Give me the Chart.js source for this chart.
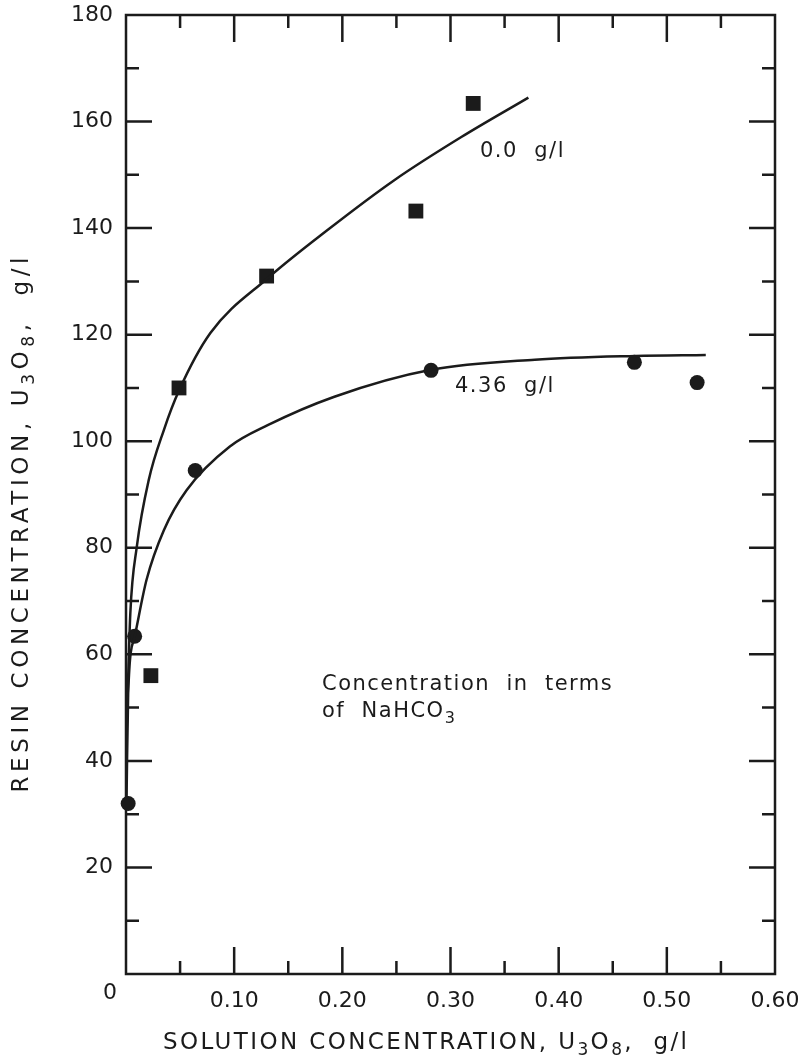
<!DOCTYPE html>
<html>
<head>
<meta charset="utf-8">
<script src="https://cdn.jsdelivr.net/npm/chart.js@4.4.1/dist/chart.umd.min.js"></script>
<style>
  html, body { margin: 0; padding: 0; background: #fff; }
  #wrap { width: 804px; height: 1061px; }
</style>
</head>
<body>
<div id="wrap"><canvas id="chart"></canvas></div>
<script>
// Fitted curves (solution conc. g/l -> resin conc. g/l)
const curve00X = [0.0005, 0.004, 0.010, 0.021, 0.035, 0.049, 0.078, 0.131, 0.186, 0.248, 0.310, 0.372];
const curve00Y = [45, 67.7, 80.2, 92.7, 102.1, 109.5, 120.3, 130.6, 139.6, 149.0, 157.1, 164.5];

const curve436X = [0.0005, 0.002, 0.008, 0.019, 0.035, 0.056, 0.096, 0.131, 0.192, 0.282, 0.378, 0.471, 0.536];
const curve436Y = [33, 52.7, 63.3, 74, 83.3, 90.8, 99, 103, 108.3, 113.4, 115.3, 116, 116.2];

// Measured points
const squaresX = [0.023, 0.049, 0.130, 0.268, 0.321];
const squaresY = [56, 110, 131, 143.2, 163.4];
const circlesX = [0.002, 0.008, 0.064, 0.282, 0.470, 0.528];
const circlesY = [32, 63.4, 94.5, 113.3, 114.8, 111];

// Tick marks (inward, all four sides)
const xMajorTicks = [0.1, 0.2, 0.3, 0.4, 0.5];
const xMinorTicks = [0.05, 0.15, 0.25, 0.35, 0.45, 0.55];
const yMajorTicks = [20, 40, 60, 80, 100, 120, 140, 160];
const yMinorTicks = [10, 30, 50, 70, 90, 110, 130, 150, 170];

const ink = '#1b1b1b';
const fontFamily = '"DejaVu Sans", sans-serif';

const toPoints = (xs, ys) => xs.map((x, i) => ({ x: x, y: ys[i] }));

// text with letter spacing and real subscripts
function measureRich(ctx, segs, size, spacing) {
    return segs.map(s => {
        const fs = s.sub ? Math.round(size * 0.75) : size;
        ctx.font = fs + 'px ' + fontFamily;
        ctx.letterSpacing = '0px';
        const raw = ctx.measureText(s.t).width;
        return { t: s.t, fs: fs, raw: raw, w: raw + spacing * s.t.length, dy: s.sub ? size * 0.32 : 0 };
    });
}

function drawRich(ctx, segs, x, y, size, spacing, align) {
    const parts = measureRich(ctx, segs, size, spacing);
    const total = parts.reduce((a, p) => a + p.w, 0) - spacing;
    let cx = align === 'center' ? x - total / 2 : x;
    ctx.textAlign = 'left';
    ctx.letterSpacing = spacing + 'px';
    parts.forEach(p => {
        ctx.font = p.fs + 'px ' + fontFamily;
        ctx.fillText(p.t, cx, y + p.dy);
        cx += p.w;
    });
    ctx.letterSpacing = '0px';
}

function fitSpacing(ctx, segs, size, target) {
    const parts = measureRich(ctx, segs, size, 0);
    const raw = parts.reduce((a, p) => a + p.raw, 0);
    const n = segs.reduce((a, s) => a + s.t.length, 0);
    return Math.max(0, (target - raw) / (n - 1));
}

const xTitle = [{ t: 'SOLUTION CONCENTRATION, U' }, { t: '3', sub: true }, { t: 'O' }, { t: '8', sub: true }, { t: ',  g/l' }];
const yTitle = [{ t: 'RESIN CONCENTRATION, U' }, { t: '3', sub: true }, { t: 'O' }, { t: '8', sub: true }, { t: ',  g/l' }];

// frame + inward ticks
const frameAndTicks = {
    id: 'frameAndTicks',
    beforeDatasetsDraw(chart) {
        const { ctx, chartArea: a, scales: { x, y } } = chart;
        ctx.save();
        ctx.strokeStyle = ink;
        ctx.lineWidth = 2.5;
        ctx.strokeRect(a.left, a.top, a.right - a.left, a.bottom - a.top);
        ctx.beginPath();
        const yTick = (v, len) => {
            const py = y.getPixelForValue(v);
            ctx.moveTo(a.left, py); ctx.lineTo(a.left + len, py);
            ctx.moveTo(a.right, py); ctx.lineTo(a.right - len, py);
        };
        const xTick = (v, len) => {
            const px = x.getPixelForValue(v);
            ctx.moveTo(px, a.bottom); ctx.lineTo(px, a.bottom - len);
            ctx.moveTo(px, a.top); ctx.lineTo(px, a.top + len);
        };
        yMajorTicks.forEach(v => yTick(v, 26));
        yMinorTicks.forEach(v => yTick(v, 13));
        xMajorTicks.forEach(v => xTick(v, 27));
        xMinorTicks.forEach(v => xTick(v, 13));
        ctx.stroke();
        ctx.restore();
    }
};

// axis titles, corner zero and curve notes
const labels = {
    id: 'labels',
    afterDraw(chart) {
        const { ctx } = chart;
        ctx.save();
        ctx.fillStyle = ink;
        ctx.textBaseline = 'middle';

        ctx.font = '22px ' + fontFamily;
        ctx.textAlign = 'center';
        ctx.fillText('0', 110, 993);

        const sx = fitSpacing(ctx, xTitle, 23, 524);
        drawRich(ctx, xTitle, 425, 1043, 23, sx, 'center');

        ctx.save();
        ctx.translate(22, 525);
        ctx.rotate(-Math.PI / 2);
        const sy = fitSpacing(ctx, yTitle, 23, 535);
        drawRich(ctx, yTitle, 0, 0, 23, sy, 'center');
        ctx.restore();

        drawRich(ctx, [{ t: '0.0  g/l' }], 480, 152, 21, 1.5, 'left');
        drawRich(ctx, [{ t: '4.36  g/l' }], 455, 387, 21, 1.5, 'left');
        drawRich(ctx, [{ t: 'Concentration  in  terms' }], 322, 685, 21, 1.5, 'left');
        drawRich(ctx, [{ t: 'of  NaHCO' }, { t: '3', sub: true }], 322, 712, 21, 1.5, 'left');
        ctx.restore();
    }
};

new Chart(document.getElementById('chart'), {
    type: 'scatter',
    data: {
        datasets: [
            {
                label: '0.0 g/l curve',
                data: toPoints(curve00X, curve00Y),
                showLine: true,
                borderColor: ink,
                borderWidth: 2.5,
                pointRadius: 0,
                cubicInterpolationMode: 'monotone'
            },
            {
                label: '4.36 g/l curve',
                data: toPoints(curve436X, curve436Y),
                showLine: true,
                borderColor: ink,
                borderWidth: 2.5,
                pointRadius: 0,
                cubicInterpolationMode: 'monotone'
            },
            {
                label: '0.0 g/l',
                data: toPoints(squaresX, squaresY),
                pointStyle: 'rect',
                pointRadius: 10.5,
                backgroundColor: ink,
                borderColor: ink,
                borderWidth: 0,
                clip: false
            },
            {
                label: '4.36 g/l',
                data: toPoints(circlesX, circlesY),
                pointStyle: 'circle',
                pointRadius: 7.5,
                backgroundColor: ink,
                borderColor: ink,
                borderWidth: 0,
                clip: false
            }
        ]
    },
    options: {
        responsive: true,
        maintainAspectRatio: false,
        animation: false,
        layout: { padding: { left: 70, right: 29, top: 15, bottom: 27 } },
        plugins: {
            legend: { display: false },
            tooltip: { enabled: false }
        },
        scales: {
            x: {
                type: 'linear',
                min: 0,
                max: 0.6,
                grid: { display: false, drawTicks: false, tickLength: 0 },
                border: { display: false },
                ticks: {
                    stepSize: 0.1,
                    autoSkip: false,
                    maxRotation: 0,
                    padding: 14,
                    color: ink,
                    font: { family: fontFamily, size: 22 },
                    callback: v => v === 0 ? '' : v.toFixed(2)
                },
                afterFit: s => { s.height = 60; s.paddingLeft = 0; s.paddingRight = 0; }
            },
            y: {
                min: 0,
                max: 180,
                grid: { display: false, drawTicks: false, tickLength: 0 },
                border: { display: false },
                ticks: {
                    stepSize: 20,
                    padding: 13,
                    color: ink,
                    font: { family: fontFamily, size: 22 },
                    callback: v => v === 0 ? '' : String(v)
                },
                afterFit: s => { s.width = 56; s.paddingTop = 0; s.paddingBottom = 0; }
            }
        }
    },
    plugins: [frameAndTicks, labels]
});
</script>
</body>
</html>
